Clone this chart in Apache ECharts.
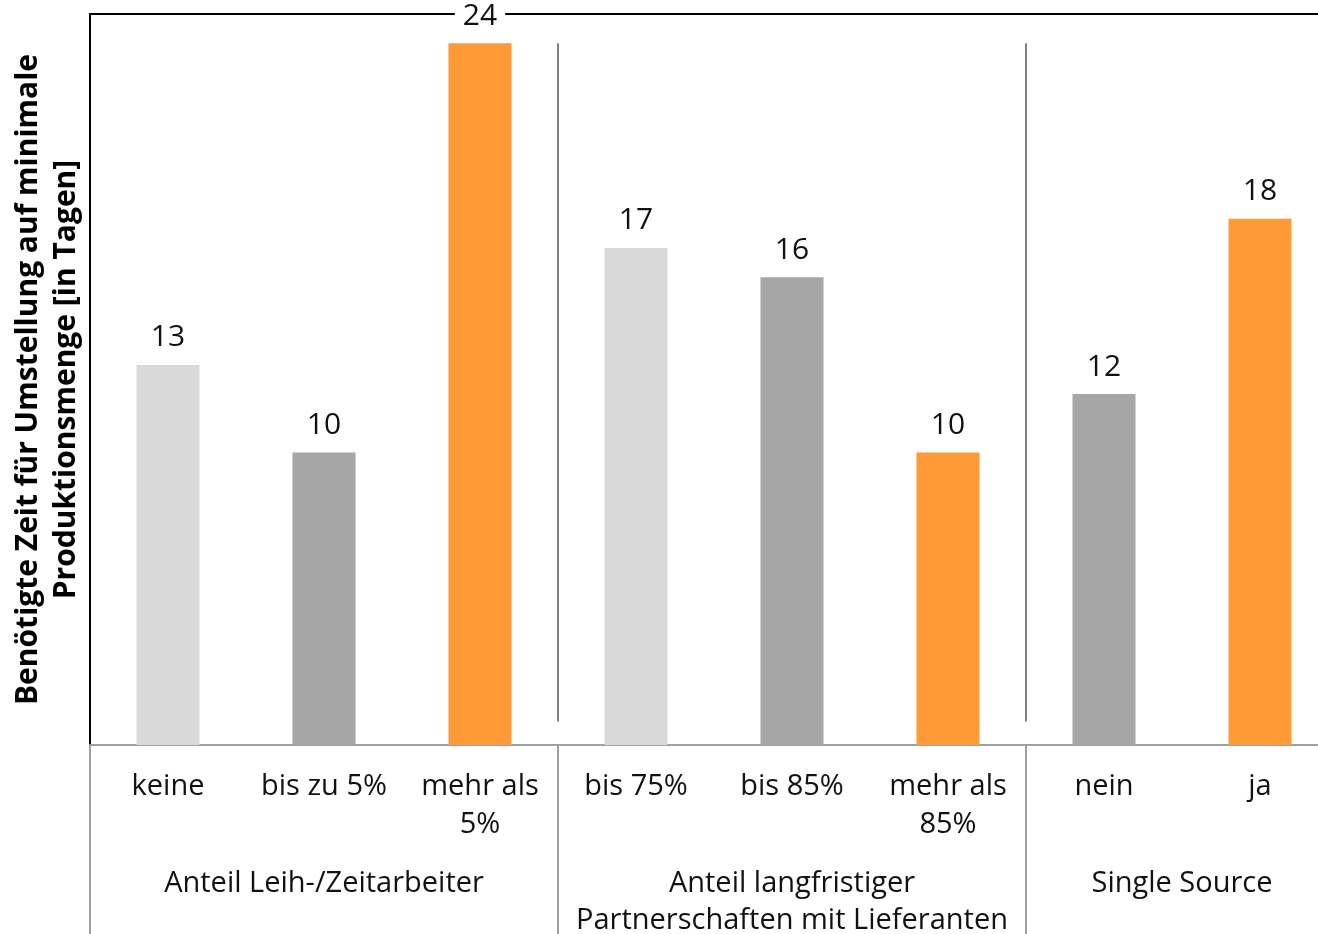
<!DOCTYPE html>
<html>
<head>
<meta charset="utf-8">
<script src="https://cdn.jsdelivr.net/npm/echarts@6/dist/echarts.min.js"></script>
<style>
  html, body { margin: 0; padding: 0; background: #fff; }
  #chart { width: 1318px; height: 934px; }
</style>
</head>
<body>
<div id="chart"></div>
<script>
// Kategorien (Ausprägungen) und benötigte Tage
const categories = ['keine', 'bis zu 5%', 'mehr als\n5%', 'bis 75%', 'bis 85%', 'mehr als\n85%', 'nein', 'ja'];
const days = [13, 10, 24, 17, 16, 10, 12, 18];

// Gruppen: Name und Anzahl der Kategorien je Gruppe
const groupNames = ['Anteil Leih-/Zeitarbeiter', 'Anteil langfristiger\nPartnerschaften mit Lieferanten', 'Single Source'];
const groupSizes = [3, 3, 2];

// Farbstufen je Balken (hell, mittel, Orange)
const barColors = ['#d9d9d9', '#a6a6a6', '#ff9a36', '#d9d9d9', '#a6a6a6', '#ff9a36', '#a6a6a6', '#ff9a36'];

const FONT = '"Open Sans", "Noto Sans", sans-serif';

// Gruppengrenzen und -mitten auf einer Wertachse 0..n
const bounds = [0];
groupSizes.forEach(s => bounds.push(bounds[bounds.length - 1] + s));
const groupStarts = bounds.slice(0, -1);
const groupCenters = groupSizes.map((s, i) => bounds[i] + s / 2);
const innerBounds = bounds.slice(1, -1);

const chart = echarts.init(document.getElementById('chart'), null, { renderer: 'canvas' });

chart.setOption({
  animation: false,
  textStyle: { fontFamily: FONT },
  grid: { left: 90, top: 14, width: 1248, bottom: 189, containLabel: false, outerBoundsMode: 'none' },
  xAxis: [
    {
      type: 'category',
      data: categories,
      position: 'bottom',
      axisLine: { show: true, lineStyle: { color: '#a0a0a0', width: 2 } },
      axisTick: { show: false },
      axisLabel: {
        interval: 0, margin: 23, color: '#111', fontSize: 29, fontFamily: FONT,
        lineHeight: 38
      },
      splitLine: { show: false }
    },
    {
      type: 'value',
      min: 0, max: bounds[bounds.length - 1],
      position: 'bottom',
      axisLine: { show: false },
      axisTick: {
        show: true, customValues: groupStarts, length: 189, inside: false,
        lineStyle: { color: '#a0a0a0', width: 2 }
      },
      axisLabel: {
        show: true, customValues: groupCenters, margin: 120,
        color: '#111', fontSize: 29, fontFamily: FONT, lineHeight: 37,
        formatter: v => groupNames[groupCenters.indexOf(v)] || ''
      },
      splitLine: { show: false }
    },
    {
      type: 'value',
      min: 0, max: bounds[bounds.length - 1],
      position: 'top',
      axisLine: { show: true, lineStyle: { color: '#000', width: 2 } },
      axisTick: { show: false },
      axisLabel: { show: false },
      splitLine: { show: false }
    }
  ],
  yAxis: {
    type: 'value',
    min: 0, max: 25,
    axisLine: { show: true, lineStyle: { color: '#000', width: 2 } },
    axisTick: { show: false },
    axisLabel: { show: false },
    splitLine: { show: false },
    name: 'Benötigte Zeit für Umstellung auf minimale\nProduktionsmenge [in Tagen]',
    nameLocation: 'middle',
    nameRotate: 90,
    nameGap: 5,
    nameTextStyle: { fontFamily: FONT, fontWeight: 'bold', fontSize: 30, color: '#000', lineHeight: 38 }
  },
  series: [
    {
      type: 'bar',
      xAxisIndex: 0,
      yAxisIndex: 0,
      barWidth: 63,
      data: days.map((v, i) => ({ value: v, itemStyle: { color: barColors[i] } })),
      label: {
        show: true, position: 'top', distance: 12,
        color: '#111', fontSize: 30, fontFamily: FONT,
        backgroundColor: '#fff', padding: [0, 8]
      }
    },
    {
      // senkrechte Trennlinien zwischen den Gruppen im Diagrammbereich
      type: 'scatter',
      xAxisIndex: 1,
      yAxisIndex: 0,
      data: [],
      silent: true,
      markLine: {
        silent: true,
        symbol: 'none',
        label: { show: false },
        lineStyle: { color: '#808080', width: 2, type: 'solid' },
        data: innerBounds.map(b => [{ coord: [b, 0.8] }, { coord: [b, 24] }])
      }
    }
  ]
});
</script>
</body>
</html>
